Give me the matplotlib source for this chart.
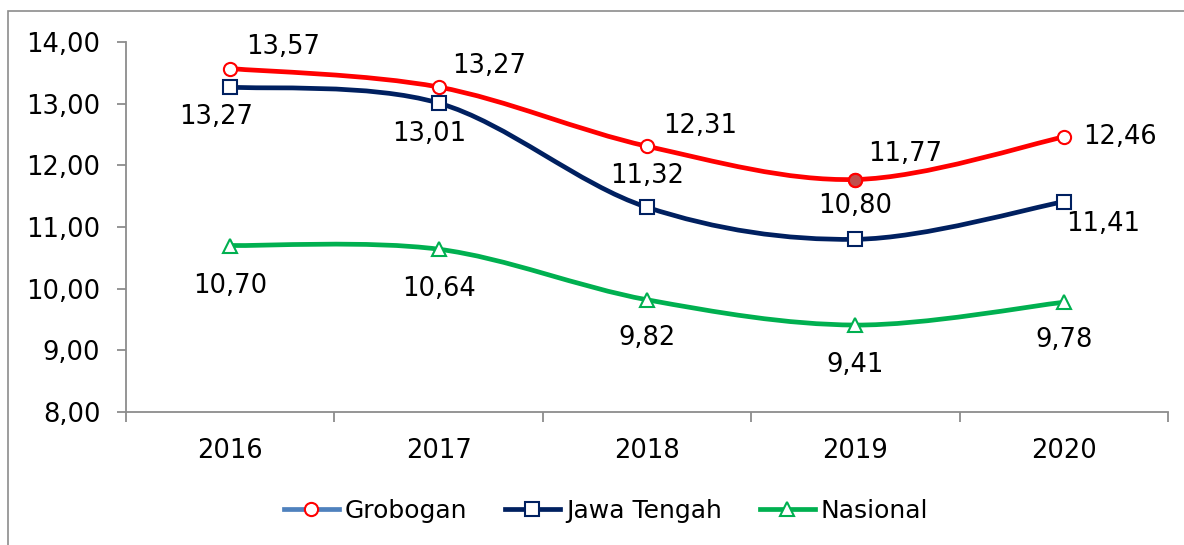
import numpy as np
import matplotlib
matplotlib.use('Agg')
import matplotlib.pyplot as plt
from matplotlib.path import Path
from matplotlib.patches import PathPatch, Rectangle
from matplotlib.lines import Line2D

years = ['2016', '2017', '2018', '2019', '2020']
grobogan = [13.57, 13.27, 12.31, 11.77, 12.46]
jawa_tengah = [13.27, 13.01, 11.32, 10.80, 11.41]
nasional = [10.70, 10.64, 9.82, 9.41, 9.78]

# label offsets in pixels (dx, dy), placed by hand like the excel chart
off_grob = [(53, 22), (51, 21), (53, 20), (50, 26), (56, 0)]
off_jawa = [(-14, -30), (-9, -31), (0, 31), (0, 33), (39, -22)]
off_nas = [(0, -40), (0, -40), (0, -38), (0, -40), (0, -38)]

plt.rcParams['font.family'] = ['DejaVu Sans']

fig = plt.figure(figsize=(11.84, 5.45), dpi=100)
ax = fig.add_axes([126 / 1184, 1 - 412 / 545, 1042 / 1184, 370 / 545])

x = np.arange(len(years))


def smooth_path(xs, ys):
    # excel-like smoothed line: bezier segments with catmull-rom tangents
    pts = np.column_stack([xs, ys]).astype(float)
    verts = [pts[0]]
    codes = [Path.MOVETO]
    n = len(pts)
    for i in range(n - 1):
        p0 = pts[i - 1] if i > 0 else pts[i]
        p1 = pts[i]
        p2 = pts[i + 1]
        p3 = pts[i + 2] if i + 2 < n else pts[i + 1]
        c1 = p1 + (p2 - p0) / 6
        c2 = p2 - (p3 - p1) / 6
        verts += [c1, c2, p2]
        codes += [Path.CURVE4] * 3
    return Path(verts, codes)


series = [
    (grobogan, '#FF0000', 'o', off_grob),
    (jawa_tengah, '#002060', 's', off_jawa),
    (nasional, '#00B050', '^', off_nas),
]

for vals, col, mk, offs in series:
    ax.add_patch(PathPatch(smooth_path(x, vals), fill=False, edgecolor=col,
                           lw=3.4, capstyle='round', zorder=2))
    ax.plot(x, vals, ls='none', marker=mk, ms=9.5, mfc='white', mec=col,
            mew=1.5, zorder=3)
    for xi, v, (dx, dy) in zip(x, vals, offs):
        ax.annotate(f'{v:.2f}'.replace('.', ','), (xi, v), xytext=(dx, dy),
                    textcoords='offset pixels', ha='center', va='center',
                    fontsize=18.5, color='black')

# the 2019 Grobogan point is filled in the original
ax.plot(x[3], grobogan[3], ls='none', marker='o', ms=9.5, mfc='#C0504D',
        mec='#FF0000', mew=1.5, zorder=4)

ax.set_xlim(-0.5, len(years) - 0.5)
ax.set_ylim(8, 14)
ax.set_yticks(np.arange(8, 14.01, 1))
ax.set_yticklabels([f'{v:.2f}'.replace('.', ',') for v in np.arange(8, 14.01, 1)])
ax.set_xticks(np.arange(-0.5, len(years), 1))
ax.set_xticklabels([])
ax.set_xticks(x, minor=True)
ax.set_xticklabels(years, minor=True)

gray = '#8C8C8C'
for s in ['top', 'right']:
    ax.spines[s].set_visible(False)
for s in ['left', 'bottom']:
    ax.spines[s].set_color(gray)
    ax.spines[s].set_linewidth(1.3)

ax.tick_params(axis='y', which='major', direction='out', length=6.5, width=1.3,
               color=gray, labelsize=18.5, pad=12)
ax.tick_params(axis='x', which='major', direction='out', length=7, width=1.3,
               color=gray)
ax.tick_params(axis='x', which='minor', length=0, labelsize=18.5, pad=19)

handles = [
    Line2D([], [], color='#4F81BD', lw=3.4, marker='o', ms=9.5, mfc='white',
           mec='#FF0000', mew=1.5),
    Line2D([], [], color='#002060', lw=3.4, marker='s', ms=9.5, mfc='white',
           mec='#002060', mew=1.5),
    Line2D([], [], color='#00B050', lw=3.4, marker='^', ms=9.5, mfc='white',
           mec='#00B050', mew=1.5),
]
fig.legend(handles, ['Grobogan', 'Jawa Tengah', 'Nasional'], loc='center',
           bbox_to_anchor=(606 / 1184, 1 - 511 / 545), ncol=3, frameon=False,
           fontsize=18, handlelength=2.2, handletextpad=0.25,
           columnspacing=1.5)

# outer chart border
fig.patches.append(Rectangle((8 / 1184, -0.05), 1.2, 1 - 11 / 545 + 0.05,
                             transform=fig.transFigure, fill=False,
                             edgecolor=gray, lw=1.2))

fig.savefig('out.png', dpi=100)
